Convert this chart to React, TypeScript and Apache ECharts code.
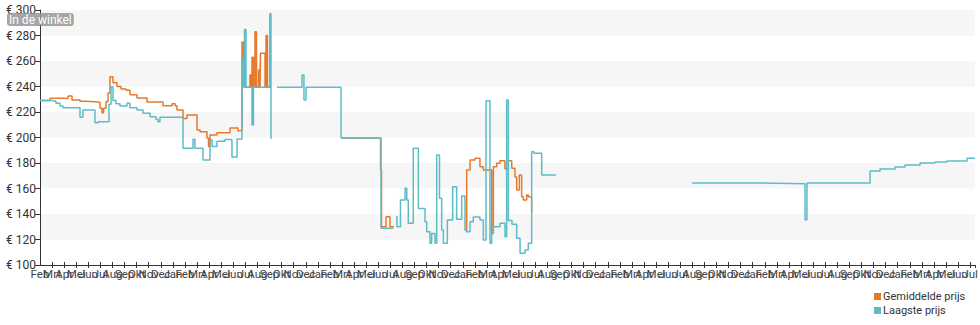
import React, { useEffect, useRef } from 'react';
import * as echarts from 'echarts';

const monthNames = ['Feb', 'Mrt', 'Apr', 'Mei', 'Jun', 'Jul', 'Aug', 'Sep', 'Okt', 'Nov', 'Dec', 'Jan'];
const seriesNames = ['Gemiddelde prijs', 'Laagste prijs'];
const shopLabel = 'In de winkel';

// x = months since the first February on the axis
const gemiddeldeMonths = [
  0.0, 0.83, 1.9, 2.32, 2.65, 3.31, 3.73, 4.55, 4.97, 5.13, 5.26, 5.46, 5.63, 5.79, 6.04, 6.37, 6.71, 7.12,
  7.45, 8.03, 8.86, 10.18, 10.93, 11.18, 11.34, 11.84, 12.17, 13.0, 13.25, 13.82, 13.95, 14.07, 14.65, 15.73,
  16.39, 16.72, 16.85, 16.97, 17.38, 17.47, 17.55, 17.67, 17.8, 17.92, 18.09, 18.21, 18.25, 18.63, 18.71,
  18.83, 19.04, 19.16, 19.2,
  24.92, 28.19, 28.27, 28.64, 28.97, 29.22, 29.3,
  35.18, 35.32, 35.6, 36.01, 36.42, 36.7, 37.39, 37.53, 37.81, 38.08, 38.49, 38.77, 39.05, 39.32, 39.46,
  39.68, 39.87, 40.01, 40.29, 40.42, 40.7, 40.77,
];
const gemiddeldePrices = [
  229, 230.7, 230.5, 232.5, 229.5, 228.5, 228, 227.5, 222.9, 219.5, 223, 228, 235, 247.7, 243, 240, 238, 237,
  233.5, 231, 227.8, 225, 226.5, 225, 221.6, 215, 217.6, 205.9, 204.5, 199.6, 192.8, 202, 203.8, 207.5,
  205.3, 275, 260.8, 239.4, 249, 239.4, 263, 239.4, 283, 239.4, 253, 239.4, 266, 239.4, 280,
  239.4, 297, 297, null,
  199.6, 175, 130, 137.9, 130, 130, null,
  127.5, 174.5, 182.4, 183.7, 177.1, 174.5, 125, 177, 179.8, 181.8, 175.5, 181.8, 175.8, 169, 158.8,
  170.6, 153.6, 151, 154.9, 153.6, 141.8, 141.8,
];

const laagsteMonths = [
  0.0, 0.99, 1.32, 1.66, 1.9, 3.31, 3.56, 4.55, 4.8, 5.71, 5.88, 6.04, 6.29, 6.62, 7.2, 7.45, 8.03, 8.53,
  9.11, 9.6, 9.77, 9.93, 11.84, 12.67, 12.83, 13.49, 14.07, 14.24, 14.65, 15.31, 15.89, 16.31, 16.72, 16.85,
  16.93, 17.05, 17.55, 17.67, 19.04, 19.12, 19.2,
  19.62, 21.69, 21.85, 22.02, 24.92, 28.23, 29.25, 29.3,
  29.47, 29.55, 29.84, 30.22, 30.36, 30.49, 30.9, 31.32, 31.87, 32.01, 32.28, 32.42, 32.7, 32.84, 33.07,
  33.25, 33.39, 33.72, 34.16, 34.49, 34.91, 35.18, 35.32, 35.6, 35.87, 36.42, 36.7, 36.92, 37.25, 37.39,
  37.53, 38.08, 38.49, 38.63, 38.77, 39.07, 39.46, 39.74, 40.15, 40.42, 40.7, 40.89, 41.53, 42.63, 42.7,
  53.97, 59.6, 63.33, 63.49, 68.71, 69.54, 70.78, 71.61, 72.85, 74.09, 75.08, 76.74, 77.4,
];
const laagstePrices = [
  229, 228.5, 226.8, 224.7, 223.4, 215.8, 221.6, 211.6, 212.4, 226, 239.8, 229, 226.5, 224.7, 226.8, 223.4, 221.6, 219,
  216.3, 214.2, 212.4, 215.8, 191.5, 198.6, 191.5, 182.4, 198, 193, 197, 198.5, 184.7, 198.8, 262, 239.4,
  284.8, 239.4, 209.8, 239.4, 296, 199.6, null,
  239.4, 249, 229.4, 239.4, 199.6, 128.8, 128.8, null,
  137.9, 130, 151, 160.1, 151, 132.7, 191.5, 144.4, 134, 126.1, 117, 124.8, 117, 186.3, 152.3,
  127.5, 117, 135.3, 161.4, 135.8, 154.1, 127.5, 126.1, 134, 137.6, 135.3, 119.6, 228.9, 117, 124.8,
  130, 132.7, 122.2, 229.4, 135, 132, 120.9, 109.2, 111.8, 117, 188.9, 187.6, 170.6, 170.6, null,
  164.3, 163.8, 135.5, 164.3, 173.7, 175.2, 176.9, 178.4, 180, 180.8, 181.6, 183.7, 183.7,
];

const xMin = 0;
const xMax = 77.4;
const yMin = 100;
const yMax = 300;
const yStep = 20;

const zip = (xs: number[], ys: (number | null)[]) => xs.map((x, i) => [x, ys[i]]);

const monthLabel = (v: number) => {
  const r = Math.round(v);
  if (Math.abs(v - r) > 1e-6) return '';
  return monthNames[((r % 12) + 12) % 12];
};

export default function App() {
  const ref = useRef<HTMLDivElement>(null);

  useEffect(() => {
    document.body.style.margin = '0';
    const chart = echarts.init(ref.current as HTMLDivElement, null, { renderer: 'svg' });
    const axisColor = '#333';
    const labelStyle = { fontSize: 11.5, color: '#444', margin: 3 };
    chart.setOption({
      animation: false,
      textStyle: { fontFamily: 'Roboto' },
      grid: { left: 40, right: 5, top: 10, bottom: 60, outerBoundsMode: 'none' },
      xAxis: [
        {
          type: 'value',
          min: xMin,
          max: xMax,
          interval: 1,
          axisLine: { show: true, lineStyle: { color: axisColor, width: 1 } },
          axisTick: { show: true, length: 3, lineStyle: { color: axisColor } },
          axisLabel: {
            ...labelStyle,
            showMinLabel: false,
            showMaxLabel: true,
            hideOverlap: false,
            formatter: (v: number) => (Math.abs(v - xMin) < 1e-6 ? '' : monthLabel(v)),
          },
          splitLine: { show: false },
        },
        {
          type: 'value',
          min: xMin,
          max: xMax,
          interval: 1,
          position: 'bottom',
          axisLine: { show: false },
          axisTick: { show: true, inside: true, length: 3, lineStyle: { color: axisColor } },
          axisLabel: {
            ...labelStyle,
            showMinLabel: true,
            showMaxLabel: false,
            hideOverlap: false,
            formatter: (v: number) => (Math.abs(v - xMin) < 1e-6 ? monthLabel(v) : ''),
          },
          splitLine: { show: false },
        },
      ],
      yAxis: {
        type: 'value',
        min: yMin,
        max: yMax,
        interval: yStep,
        axisLine: { show: true, lineStyle: { color: axisColor, width: 1 } },
        axisTick: { show: true, length: 5, lineStyle: { color: axisColor } },
        axisLabel: { fontSize: 12, color: '#333', margin: 4, formatter: (v: number) => '€ ' + v },
        splitLine: { show: false },
        splitArea: { show: true, areaStyle: { color: ['#ffffff', '#f6f6f6'] } },
      },
      legend: {
        data: seriesNames,
        orient: 'vertical',
        left: 874,
        top: 291,
        itemWidth: 7,
        itemHeight: 7,
        itemGap: 3,
        padding: 0,
        icon: 'rect',
        textStyle: { fontSize: 11, color: '#333', padding: [0, 0, 0, -3] },
      },
      graphic: [
        {
          type: 'text',
          left: 7,
          top: 13,
          z: 100,
          style: {
            text: shopLabel,
            fill: '#fff',
            fontSize: 12,
            fontFamily: 'Roboto',
            backgroundColor: 'rgba(150,150,150,0.85)',
            borderRadius: 3,
            padding: [1, 2, 0, 2],
          },
        },
      ],
      series: [
        {
          name: seriesNames[0],
          type: 'line',
          step: 'end',
          showSymbol: false,
          connectNulls: false,
          data: zip(gemiddeldeMonths, gemiddeldePrices),
          lineStyle: { color: '#e8792b', width: 1.5 },
          itemStyle: { color: '#e8792b' },
        },
        {
          name: seriesNames[1],
          type: 'line',
          step: 'end',
          showSymbol: false,
          connectNulls: false,
          data: zip(laagsteMonths, laagstePrices),
          lineStyle: { color: '#5cbdc7', width: 1.5 },
          itemStyle: { color: '#5cbdc7' },
        },
      ],
    });
    return () => chart.dispose();
  }, []);

  return <div ref={ref} style={{ width: 980, height: 325 }} />;
}
